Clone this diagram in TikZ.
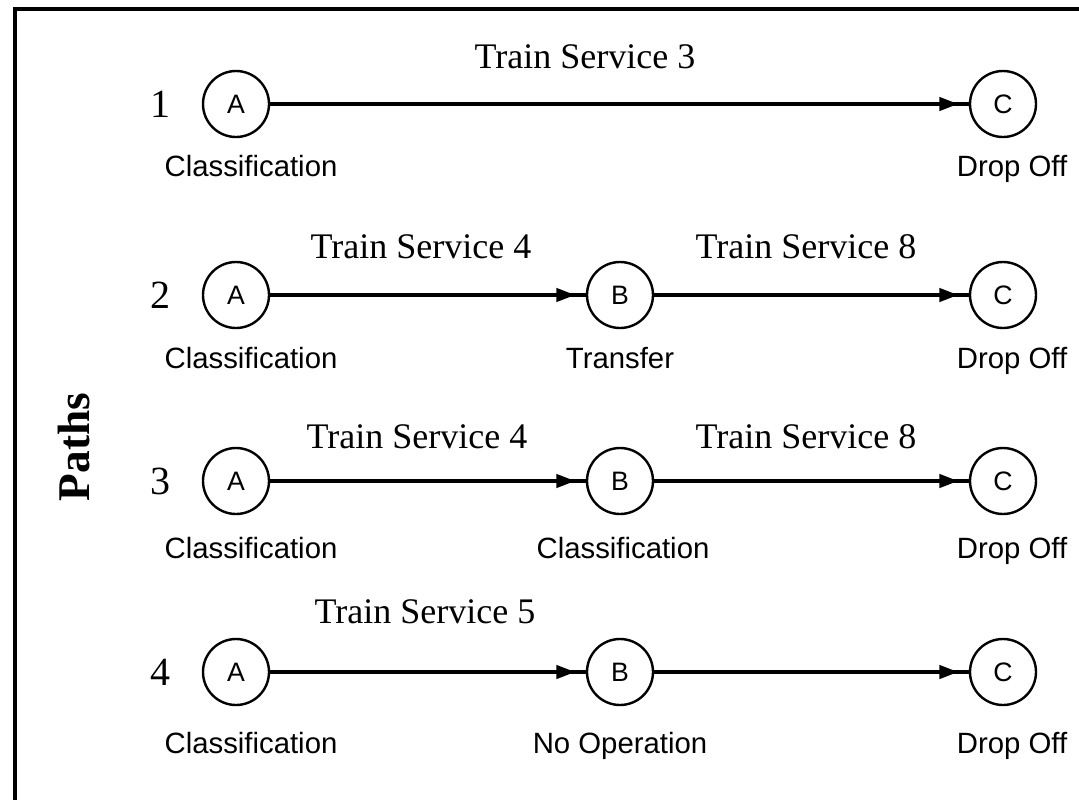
\documentclass[tikz,border=0pt]{standalone}
\usepackage{fontspec}
\setmainfont{Liberation Serif}
\newfontfamily\lblfont{Liberation Sans}
\usetikzlibrary{arrows.meta}
\begin{document}
\begin{tikzpicture}[x=0.75pt,y=-0.75pt,
  stn/.style={circle,draw,line width=1.8pt,minimum size=66*0.75pt,inner sep=0pt,font=\lblfont\fontsize{20}{20}\selectfont},
  lbl/.style={font=\lblfont\fontsize{22}{22}\selectfont,inner sep=0pt,anchor=base},
  svc/.style={font=\fontsize{27}{27}\selectfont,inner sep=0pt},
  num/.style={font=\fontsize{30}{30}\selectfont,inner sep=0pt},
  conn/.style={line width=2.3pt},
  arr/.style={line width=2.3pt,-{Triangle[length=14pt,width=10pt]},shorten >=8pt}]
\useasboundingbox (0,0) rectangle (1079,800);
\fill[white] (0,0) rectangle (1079,800);
\coordinate (fr1) at (1079,9);
\coordinate (fr2) at (15,9);
\coordinate (fr3) at (15,800);
\draw[line width=2.4pt] (fr1) -- (fr2) -- (fr3);
\node[rotate=90,font=\bfseries\fontsize{34}{34}\selectfont] (paths) at (74,447) {Paths};
% row 1
\node[num] (n1) at (160,104) {1};
\node[stn] (a1) at (236,104) {A};
\node[stn] (c1) at (1003,104) {C};
\node[lbl] (la1) at (251,176) {Classification};
\node[lbl] (lc1) at (1012,176) {Drop Off};
\node[svc] (s13) at (585,57) {Train Service 3};
\draw[conn] (a1) -- (c1);
\draw[arr] (a1) -- (c1);
% row 2
\node[num] (n2) at (160,295) {2};
\node[stn] (a2) at (236,295) {A};
\node[stn] (b2) at (620,295) {B};
\node[stn] (c2) at (1003,295) {C};
\node[lbl] (la2) at (251,368) {Classification};
\node[lbl] (lb2) at (620,368) {Transfer};
\node[lbl] (lc2) at (1012,368) {Drop Off};
\node[svc] (s24) at (421,247) {Train Service 4};
\node[svc] (s28) at (806,247) {Train Service 8};
\draw[conn] (a2) -- (b2);
\draw[arr] (a2) -- (b2);
\draw[conn] (b2) -- (c2);
\draw[arr] (b2) -- (c2);
% row 3
\node[num] (n3) at (160,481) {3};
\node[stn] (a3) at (236,481) {A};
\node[stn] (b3) at (620,481) {B};
\node[stn] (c3) at (1003,481) {C};
\node[lbl] (la3) at (251,558) {Classification};
\node[lbl] (lb3) at (623,558) {Classification};
\node[lbl] (lc3) at (1012,558) {Drop Off};
\node[svc] (s34) at (417,437) {Train Service 4};
\node[svc] (s38) at (806,437) {Train Service 8};
\draw[conn] (a3) -- (b3);
\draw[arr] (a3) -- (b3);
\draw[conn] (b3) -- (c3);
\draw[arr] (b3) -- (c3);
% row 4
\node[num] (n4) at (160,672) {4};
\node[stn] (a4) at (236,672) {A};
\node[stn] (b4) at (620,672) {B};
\node[stn] (c4) at (1003,672) {C};
\node[lbl] (la4) at (251,753) {Classification};
\node[lbl] (lb4) at (620,753) {No Operation};
\node[lbl] (lc4) at (1012,753) {Drop Off};
\node[svc] (s45) at (425,612) {Train Service 5};
\draw[conn] (a4) -- (b4);
\draw[arr] (a4) -- (b4);
\draw[conn] (b4) -- (c4);
\draw[arr] (b4) -- (c4);
\end{tikzpicture}
\end{document}
